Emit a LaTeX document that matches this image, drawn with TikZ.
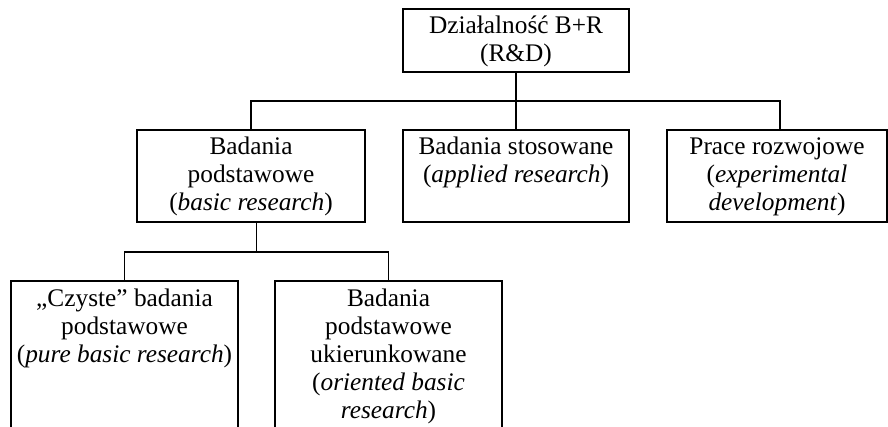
\documentclass[tikz,border=0pt]{standalone}
\usepackage{fontspec}
\setmainfont{Liberation Serif}
\usetikzlibrary{calc}
\newlength\px
\setlength\px{0.75pt}
\newcommand\bxt[3]{\parbox[c][#2\px][t]{#1\px}{\centering\rule{0pt}{18.75pt}#3}}
\tikzset{
  box/.style={draw, line width=0.8pt, inner sep=0pt, outer sep=0pt, anchor=north west,
    font=\fontsize{19pt}{21pt}\selectfont},
  conn/.style={line width=0.8pt}
}
\begin{document}
\begin{tikzpicture}[x=0.75pt,y=-0.75pt]
\useasboundingbox (0,0) rectangle (888,427);
\clip (0,0) rectangle (888,427);
\node[box] (rd) at (403,9) {\bxt{226}{63}{Działalność B+R\\(R\&D)}};
\node[box] (bp) at (137,130) {\bxt{228}{92}{Badania\\podstawowe\\(\textit{basic research})}};
\node[box] (bs) at (403,130) {\bxt{226}{92}{Badania stosowane\\(\textit{applied research})}};
\node[box] (pr) at (667,130) {\bxt{220}{92}{Prace rozwojowe\\(\textit{experimental}\\\textit{development})}};
\node[box] (cz) at (11,281) {\bxt{227}{170}{„Czyste” badania\\podstawowe\\(\textit{pure basic research})}};
\node[box] (uk) at (275,281) {\bxt{227}{170}{Badania\\podstawowe\\ukierunkowane\\(\textit{oriented basic}\\\textit{research})}};
\coordinate (h1) at (0,101);
\coordinate (h2) at (0,252);
\coordinate (prtop) at ([xshift=3\px]pr.north);
\coordinate (m) at ($(cz.north)!0.5!(uk.north)$);
\draw[conn] (rd.south) -- (bs.north);
\draw[conn] (bp.north) -- (bp.north |- h1) -- (prtop |- h1) -- (prtop);
\draw[conn] (bp.south -| m) -- (m |- h2);
\draw[conn] (cz.north) -- (cz.north |- h2) -- (uk.north |- h2) -- (uk.north);
\end{tikzpicture}
\end{document}
